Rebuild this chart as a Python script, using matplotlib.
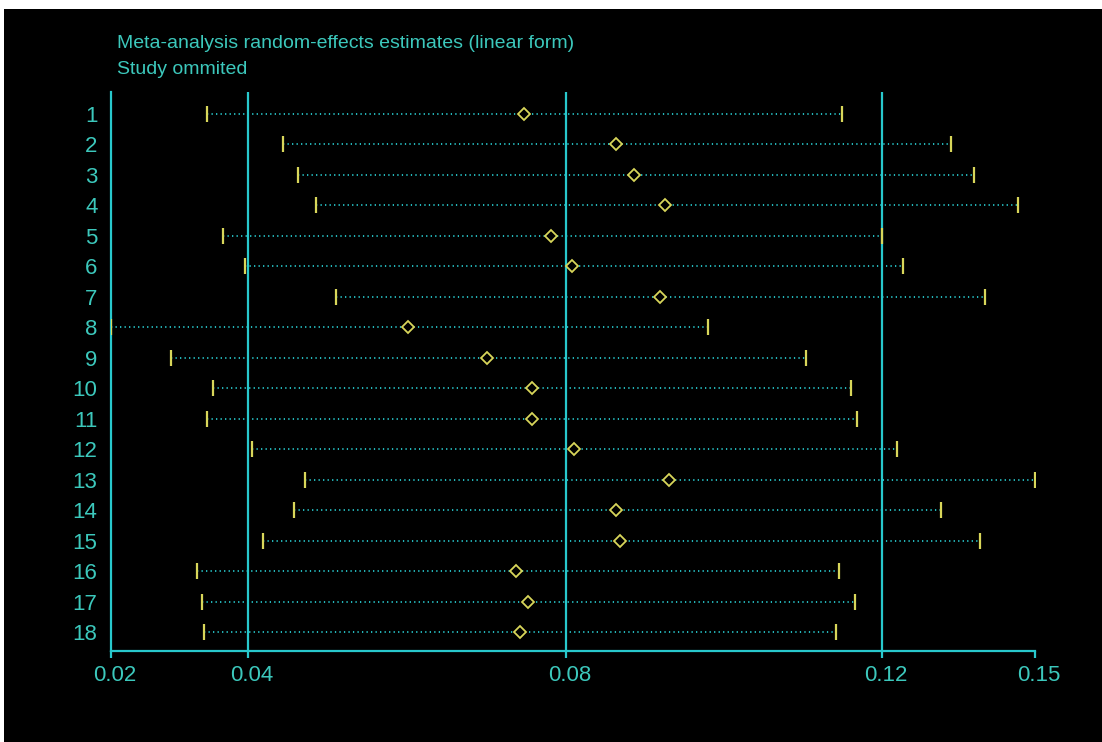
import numpy as np
import matplotlib.pyplot as plt
import matplotlib.transforms as mtransforms
from matplotlib.patches import Rectangle

# influence analysis: pooled estimate with each study left out in turn
studies = list(range(1, 19))
lower = [0.0341, 0.0444, 0.0463, 0.0486, 0.0363, 0.0395, 0.0511, 0.0200, 0.0288,
         0.0349, 0.0341, 0.0405, 0.0472, 0.0458, 0.0419, 0.0326, 0.0333, 0.0336]
estimate = [0.0748, 0.0863, 0.0886, 0.0926, 0.0782, 0.0808, 0.0919, 0.0602, 0.0701,
            0.0757, 0.0757, 0.0810, 0.0931, 0.0863, 0.0868, 0.0738, 0.0752, 0.0743]
upper = [0.1149, 0.1334, 0.1380, 0.1467, 0.1200, 0.1241, 0.1402, 0.0980, 0.1103,
         0.1161, 0.1168, 0.1229, 0.1500, 0.1316, 0.1392, 0.1145, 0.1166, 0.1142]
overall = [0.04, 0.08, 0.12]   # combined lower CI, estimate, upper CI
x_ticks = [0.02, 0.04, 0.08, 0.12, 0.15]

title_lines = ["Meta-analysis random-effects estimates (linear form)", "Study ommited"]

cyan = '#28c8cc'
text_cyan = '#3cc8bc'
yellow = '#d8d65a'

# the axis is stretched between its labelled values, so map it piecewise
axis_pos = np.array([0.0, 137.3, 455.0, 771.6, 924.6])
xs = np.array(x_ticks)
s0 = (axis_pos[1] - axis_pos[0]) / (xs[1] - xs[0])
s1 = (axis_pos[-1] - axis_pos[-2]) / (xs[-1] - xs[-2])
is0 = 1 / s0
is1 = 1 / s1


def fwd(v):
    v = np.asarray(v, float)
    return np.where(v < xs[0], axis_pos[0] + (v - xs[0]) * s0,
                    np.where(v > xs[-1], axis_pos[-1] + (v - xs[-1]) * s1,
                             np.interp(v, xs, axis_pos)))


def inv(p):
    p = np.asarray(p, float)
    return np.where(p < axis_pos[0], xs[0] + (p - axis_pos[0]) * is0,
                    np.where(p > axis_pos[-1], xs[-1] + (p - axis_pos[-1]) * is1,
                             np.interp(p, axis_pos, xs)))


plt.rcParams['font.family'] = ['Liberation Sans', 'DejaVu Sans']

fig = plt.figure(figsize=(11.02, 7.42), dpi=100, facecolor='white')
# black panel, leaving a thin white margin on the top and left
fig.patches.append(Rectangle((4 / 1102, 0), 1, 1 - 9 / 742, transform=fig.transFigure,
                             facecolor='black', edgecolor='none', zorder=-5))

ax = fig.add_axes([110.7 / 1102, 1 - 651 / 742, 924.6 / 1102, (651 - 92) / 742])
ax.set_facecolor('black')
ax.set_xscale('function', functions=(fwd, inv))
ax.set_xlim(x_ticks[0], x_ticks[-1])
ax.set_ylim(18.62, 0.28)

for v in overall:
    ax.axvline(v, color=cyan, lw=1.6, zorder=1)

for s, lo, est, hi in zip(studies, lower, estimate, upper):
    ax.hlines(s, lo, hi, colors=cyan, linestyles=(0, (0.7, 1.8)), lw=1.3, zorder=2)
    ax.plot([lo, hi], [s, s], ls='none', marker='|', ms=12, mew=1.6, color=yellow, zorder=3)
    ax.plot(est, s, marker='D', ms=6.5, mfc='black', mec=yellow, mew=1.3, zorder=4)

for side in ['top', 'right']:
    ax.spines[side].set_visible(False)
for side in ['left', 'bottom']:
    ax.spines[side].set_color(cyan)
    ax.spines[side].set_linewidth(1.6)

ax.set_xticks(x_ticks)
ax.set_xticklabels([f'{t:.2f}' for t in x_ticks])
ax.xaxis.set_minor_locator(plt.NullLocator())
ax.tick_params(axis='x', colors=cyan, labelcolor=text_cyan, length=5, width=1.6,
               labelsize=16, pad=5)
shift = mtransforms.ScaledTranslation(4 / 100, 0, fig.dpi_scale_trans)
for lab in ax.get_xticklabels():
    lab.set_transform(lab.get_transform() + shift)

ax.set_yticks(studies)
ax.set_yticklabels([str(s) for s in studies])
ax.tick_params(axis='y', length=0, labelcolor=text_cyan, labelsize=16, pad=9.5)

fig.text(117 / 1102, 1 - 44 / 742, title_lines[0], color=text_cyan, fontsize=14, va='center')
fig.text(117 / 1102, 1 - 70 / 742, title_lines[1], color=text_cyan, fontsize=14, va='center')

fig.savefig('out.png', dpi=100, facecolor=fig.get_facecolor())
